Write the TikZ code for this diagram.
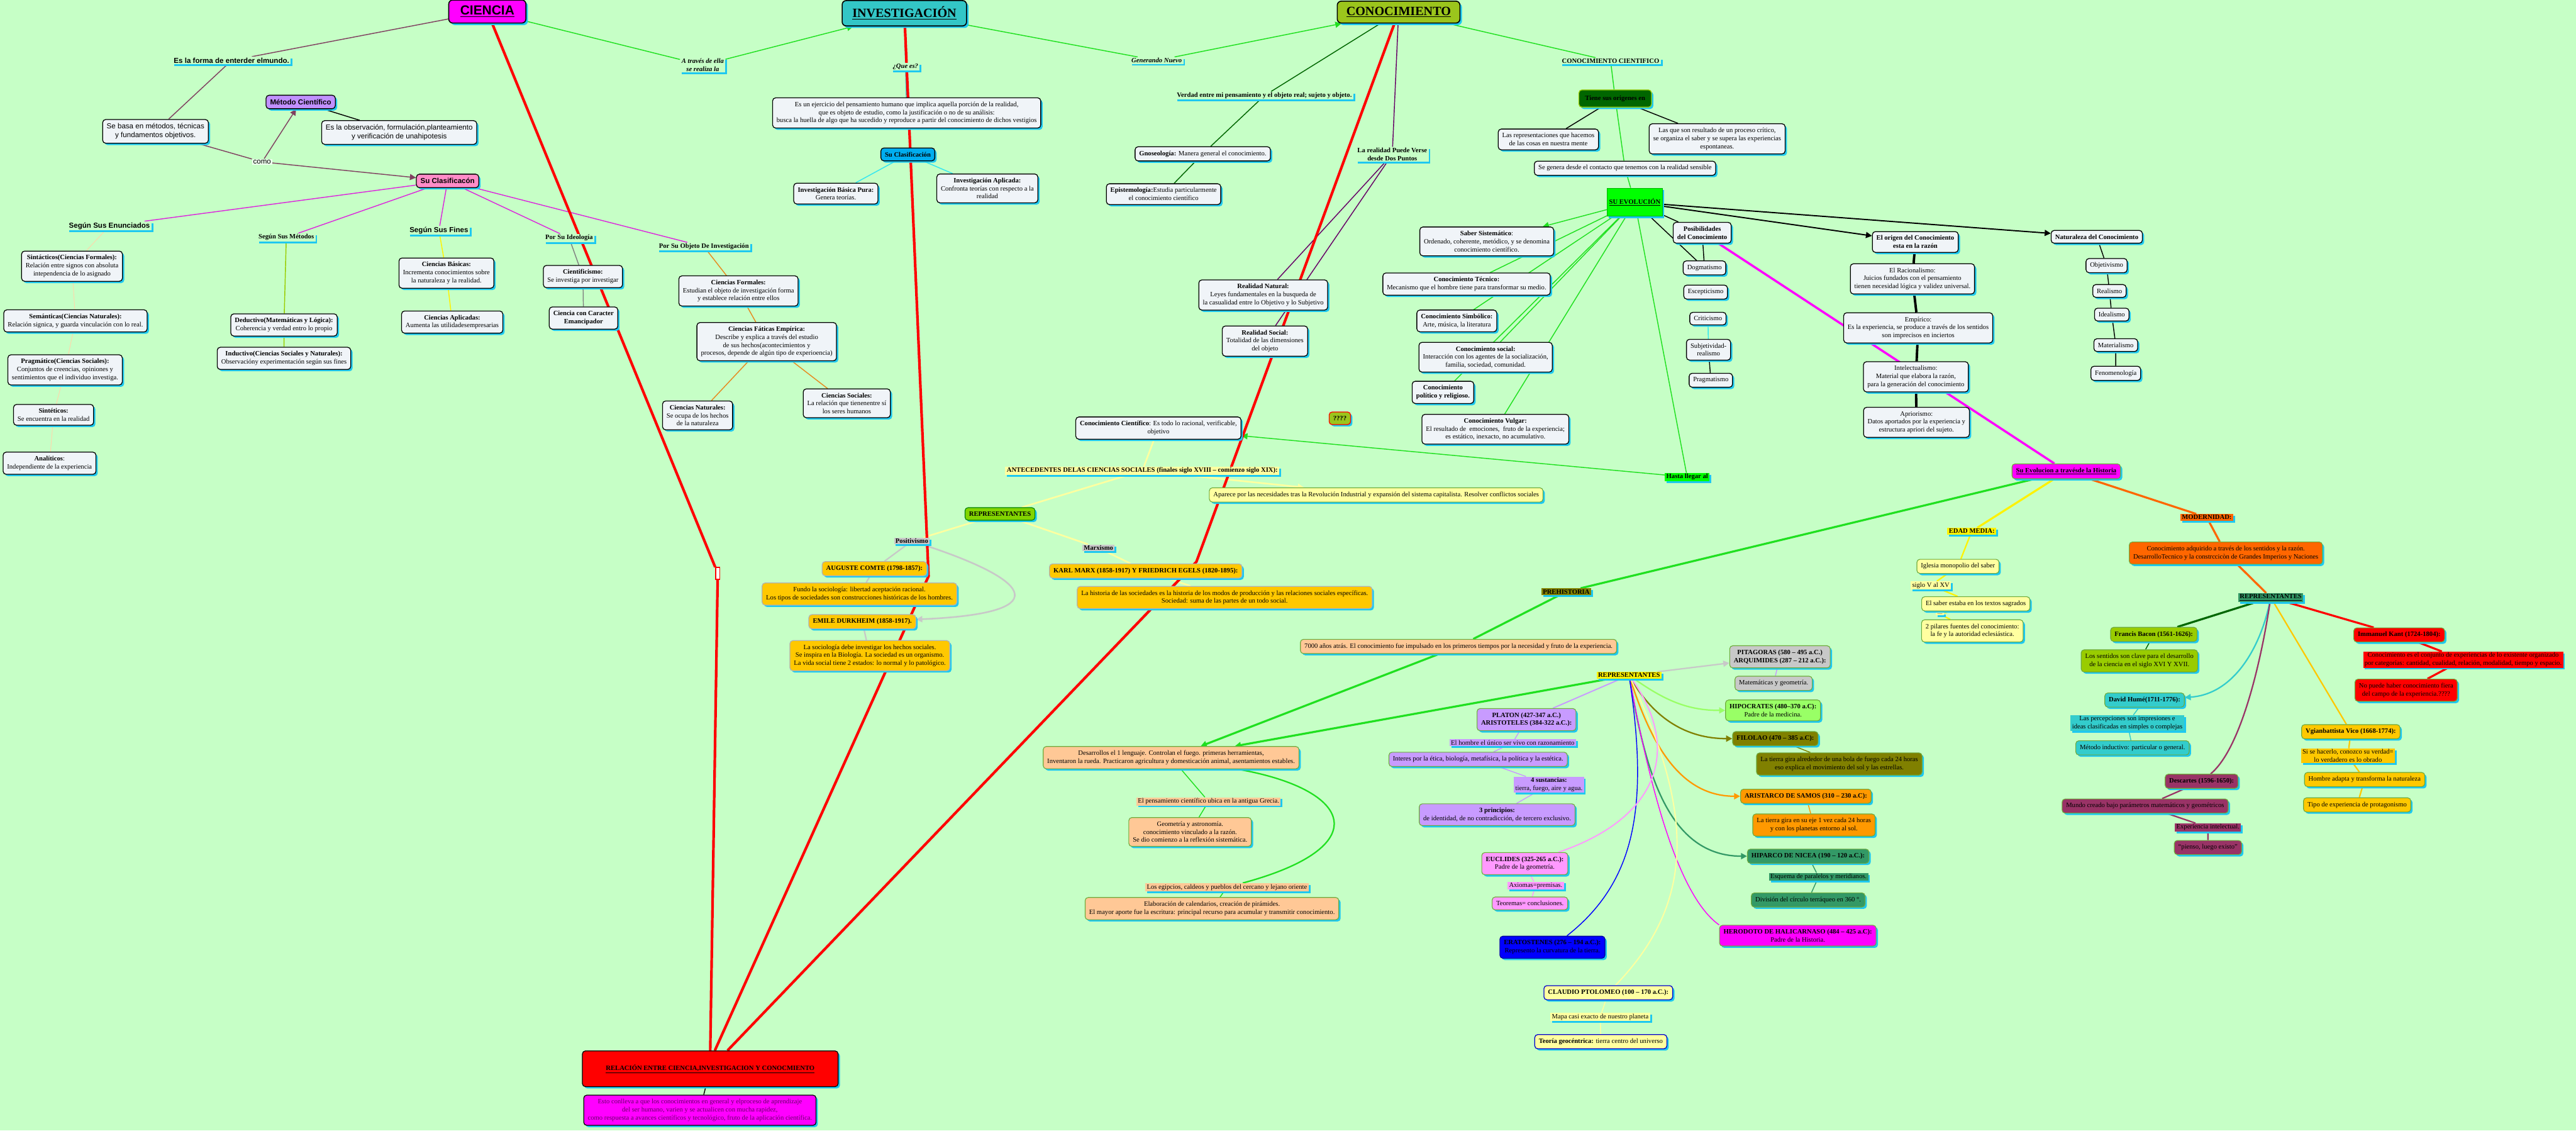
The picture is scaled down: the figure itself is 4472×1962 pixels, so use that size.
\documentclass[tikz,border=0pt]{standalone}
\usepackage{fontspec}
\setmainfont{Liberation Serif}
\setsansfont{Liberation Sans}
\usetikzlibrary{arrows.meta}
\usetikzlibrary{shadows}
\usetikzlibrary{calc}

\definecolor{bg}{RGB}{198,255,198}
\definecolor{boxfill}{RGB}{240,244,248}
\definecolor{shcyan}{RGB}{30,200,240}
\definecolor{maroonln}{RGB}{128,64,96}
\definecolor{clasifmag}{RGB}{220,40,220}
\definecolor{peachln}{RGB}{255,214,170}
\definecolor{ygreen}{RGB}{153,204,0}
\definecolor{oliveln}{RGB}{128,128,0}
\definecolor{brightgreen}{RGB}{32,224,32}
\definecolor{darkgreen}{RGB}{0,102,0}
\definecolor{purpleln}{RGB}{102,0,102}
\definecolor{cienciamag}{RGB}{255,0,255}
\definecolor{metodofill}{RGB}{192,144,255}
\definecolor{pinkfill}{RGB}{255,140,200}
\definecolor{tealfill}{RGB}{51,198,198}
\definecolor{conocfill}{RGB}{155,197,28}
\definecolor{goldfill}{RGB}{255,200,0}
\definecolor{lightyellow}{RGB}{255,255,160}
\definecolor{peachfill}{RGB}{255,200,150}
\definecolor{greylbl}{RGB}{200,200,200}
\definecolor{lavender}{RGB}{200,155,255}
\definecolor{lightgreen}{RGB}{153,255,102}
\definecolor{orangefill}{RGB}{255,153,0}
\definecolor{seagreen}{RGB}{51,153,102}
\definecolor{modorange}{RGB}{255,102,0}
\definecolor{descmaroon}{RGB}{153,51,102}
\definecolor{humeteal}{RGB}{51,204,204}
\definecolor{cyanln}{RGB}{51,230,240}
\definecolor{orangeln}{RGB}{230,138,31}
\definecolor{grnborder}{RGB}{110,170,60}
\definecolor{pinkbox}{RGB}{255,153,255}

\newcommand{\bodyfont}{\fontsize{6.6}{7.9}\selectfont}
\newcommand{\sansfont}{\sffamily\fontsize{7.2}{8.6}\selectfont}

\pgfdeclarelayer{canvas}
\pgfdeclarelayer{links}
\pgfsetlayers{canvas,links,main}

\begin{document}
\begin{tikzpicture}[x=0.02cm,y=-0.02cm,
  box/.style={draw=black,line width=0.8pt,rounded corners=3pt,fill=boxfill,align=center,inner xsep=4pt,inner ysep=4pt,font=\bodyfont,drop shadow={shadow xshift=1.8pt,shadow yshift=-1.8pt,fill=shcyan,opacity=1}},
  sbox/.style={box,font=\sansfont},
  cbox/.style={box,draw=grnborder,line width=0.7pt},
  lbl/.style={fill=bg,inner xsep=1.5pt,inner ysep=1pt,align=center,font=\bfseries\bodyfont,drop shadow={shadow xshift=1.8pt,shadow yshift=-1.8pt,fill=shcyan,opacity=1}},
  plbl/.style={lbl,font=\bodyfont},
  headbox/.style={draw=black,line width=1pt,rounded corners=4pt,align=center,drop shadow={shadow xshift=2pt,shadow yshift=-2pt,fill=shcyan,opacity=1}},
  ln/.style={line width=0.9pt},
  fatln/.style={line width=2pt},
  redln/.style={red,line width=2.6pt},
  arr/.style={-{Triangle[length=6pt,width=6pt]}}
]
\begin{pgfonlayer}{canvas}
\fill[bg] (0,0) rectangle (4472,1962);
\end{pgfonlayer}
\useasboundingbox (0,0) rectangle (4472,1962);

%ciencia
\node[headbox,fill=cienciamag,minimum width=2.68cm,minimum height=0.8cm,font=\sffamily\bfseries\fontsize{13}{15}\selectfont] (ciencia) at (846,20) {\underline{CIENCIA}};
\node[lbl,font=\sffamily\bfseries\fontsize{7.2}{8.6}\selectfont] (formamundo) at (402,105) {Es la forma de enterder elmundo.};
\node[sbox] (sebasa) at (270,228) {Se basa en métodos, técnicas\\y fundamentos objetivos.};
\node[sbox,fill=metodofill,font=\sffamily\bfseries\fontsize{7.2}{8.6}\selectfont] (metodo) at (522,177) {Método Científico};
\node[sbox] (observ) at (693,230) {Es la observación, formulación,planteamiento\\y verificación de unahipotesis};
\node[fill=white!70!bg,inner sep=1pt,font=\sansfont] (como) at (455,281) {como};
\node[sbox,fill=pinkfill,font=\sffamily\bfseries\fontsize{7.2}{8.6}\selectfont] (suclasif) at (777,314) {Su Clasificacón};

%clasificacion labels
\node[lbl,font=\sffamily\bfseries\fontsize{7.2}{8.6}\selectfont] (enunc) at (190,392) {Según Sus Enunciados};
\node[lbl] (metodos) at (497,412) {Según Sus Métodos};
\node[lbl,font=\sffamily\bfseries\fontsize{7.2}{8.6}\selectfont] (fines) at (762,400) {Según Sus Fines};
\node[lbl] (ideol) at (988,413) {Por Su Ideología};
\node[lbl] (objinv) at (1222,428) {Por Su Objeto De Investigación};

\node[box] (sintac) at (125,462) {{\bfseries Sintácticos(Ciencias Formales):}\\Relación entre signos con absoluta\\intependencia de lo asignado};
\node[box] (seman) at (131,557) {{\bfseries Semánticas(Ciencias Naturales):}\\Relación signica, y guarda vinculación con lo real.};
\node[box] (pragm) at (113,642) {{\bfseries Pragmático(Ciencias Sociales):}\\Conjuntos de creencias, opiniones y\\sentimientos que el individuo investiga.};
\node[box] (sintet) at (93,720) {{\bfseries Sintéticos:}\\Se encuentra en la realidad};
\node[box] (analit) at (86,804) {{\bfseries Analíticos}:\\Independiente de la experiencia};
\node[box] (deduc) at (493,564) {{\bfseries Deductivo(Matemáticas y Lógica):}\\Coherencia y verdad entro lo propio};
\node[box] (induc) at (493,622) {{\bfseries Inductivo(Ciencias Sociales y Naturales):}\\Observacióny experimentación según sus fines};
\node[box] (basicas) at (775,474) {{\bfseries Ciencias Básicas:}\\Incrementa conocimientos sobre\\la naturaleza y la realidad.};
\node[box] (aplic) at (785,559) {{\bfseries Ciencias Aplicadas:}\\Aumenta las utilidadesempresarias};
\node[box] (cientif) at (1012,480) {{\bfseries Cientificismo:}\\Se investiga por investigar};
\node[box] (emancip) at (1013,552) {{\bfseries Ciencia con Caracter}\\{\bfseries Emancipador}};
\node[box] (cformal) at (1282,505) {{\bfseries Ciencias Formales:}\\Estudian el objeto de investigación forma\\y establece relación entre ellos};
\node[box] (cfatic) at (1331,593) {{\bfseries Ciencias Fáticas Empírica:}\\Describe y explica a través del estudio\\de sus hechos(acontecimientos y\\procesos, depende de algún tipo de experioencia)};
\node[box] (cnatur) at (1211,721) {{\bfseries Ciencias Naturales:}\\Se ocupa de los hechos\\de la naturaleza};
\node[box] (csocial) at (1470,700) {{\bfseries Ciencias Sociales:}\\La relación que tienenentre sí\\los seres humanos};
\node[draw=red,line width=1pt,fill=white,minimum width=0.14cm,minimum height=0.42cm,inner sep=0pt] (minibox) at (1246,995) {};

%investigacion
\node[headbox,fill=tealfill,minimum width=4.32cm,minimum height=0.88cm,font=\bfseries\fontsize{12.5}{14}\selectfont] (invest) at (1570,23) {\underline{INVESTIGACIÓN}};
\node[lbl,font=\bfseries\itshape\bodyfont] (atraves) at (1220,113) {A través de ella\\se realiza la};
\node[lbl,font=\bfseries\itshape\bodyfont] (quees) at (1572,116) {¿Que es?};
\node[box] (invdesc) at (1574,196) {Es un ejercicio del pensamiento humano que implica aquella porción de la realidad,\\que es objeto de estudio, como la justificación o no de su análisis:\\busca la huella de algo que ha sucedido y reproduce a partir del conocimiento de dichos vestigios};
\node[box,fill=cyan,font=\bfseries\bodyfont] (invclasif) at (1576,268) {Su Clasificación};
\node[box] (invbasica) at (1451,336) {{\bfseries Investigación Básica Pura:}\\Genera teorías.};
\node[box] (invaplic) at (1714,327) {{\bfseries Investigación Aplicada:}\\Confronta teorías con respecto a la\\realidad};
\node[lbl,font=\bfseries\itshape\bodyfont] (generando) at (2008,105) {Generando Nuevo};

%conocimiento
\node[headbox,fill=conocfill,minimum width=4.26cm,minimum height=0.76cm,font=\bfseries\fontsize{12.5}{14}\selectfont] (conoc) at (2428,21) {\underline{CONOCIMIENTO}};
\node[lbl] (verdad) at (2195,166) {Verdad entre mi pensamiento y el objeto real; sujeto y objeto.};
\node[box] (gnoseo) at (2088,267) {{\bfseries Gnoseología:} Manera general el conocimiento.};
\node[box] (episte) at (2020,337) {{\bfseries Epistemología:}Estudia particularmente\\el conocimiento científico};
\node[lbl] (realpuntos) at (2417,268) {La realidad Puede Verse\\desde Dos Puntos};
\node[box] (realnat) at (2193,512) {{\bfseries Realidad Natural:}\\Leyes fundamentales en la busqueda de\\la casualidad entre lo Objetivo y lo Subjetivo};
\node[box] (realsoc) at (2196,592) {{\bfseries Realidad Social:}\\Totalidad de las dimensiones\\del objeto};
\node[lbl] (concient) at (2796,106) {CONOCIMIENTO CIENTIFICO};
\node[box,fill=darkgreen,draw=ygreen,minimum width=2.52cm,minimum height=0.6cm,font=\bfseries\bodyfont] (origenes) at (2804,171) {Tiene sus origenes en};
\node[box] (represent) at (2688,242) {Las representaciones que hacemos\\de las cosas en nuestra mente};
\node[box] (critico) at (2981,241) {Las que son resultado de un proceso crítico,\\se organiza el saber y se supera las experiencias\\espontaneas.};
\node[box] (segenera) at (2821,292) {Se genera desde el contacto que tenemos con la realidad sensible};
\node[draw=green!70!black,line width=0.6pt,fill=green,minimum width=1.92cm,minimum height=0.98cm,inner sep=1pt,font=\bfseries\bodyfont,drop shadow={shadow xshift=1.8pt,shadow yshift=-1.8pt,fill=shcyan,opacity=1}] (suevol) at (2838,351) {\underline{SU EVOLUCIÓN}};

%su evolucion
\node[box] (sabersis) at (2581,419) {{\bfseries Saber Sistemático}:\\Ordenado, coherente, metódico, y se denomina\\conocimiento científico.};
\node[box] (tecnico) at (2546,493) {{\bfseries Conocimiento Técnico:}\\Mecanismo que el hombre tiene para transformar su medio.};
\node[box] (simbol) at (2529,557) {{\bfseries Conocimiento Simbólico:}\\Arte, música, la literatura};
\node[box] (csocialk) at (2579,620) {{\bfseries Conocimiento social:}\\Interacción con los agentes de la socialización,\\familia, sociedad, comunidad.};
\node[box] (polit) at (2505,681) {{\bfseries Conocimiento}\\{\bfseries político y religioso.}};
\node[box] (vulgar) at (2596,745) {{\bfseries Conocimiento Vulgar:}\\El resultado de\ \ emociones,\ \ fruto de la experiencia;\\es estático, inexacto, no acumulativo.};
\node[box,fill=conocfill,draw=red,font=\bfseries\bodyfont] (qmarks) at (2326,726) {????};
\node[lbl,fill=green] (hasta) at (2929,828) {Hasta llegar al};
\node[box] (cc) at (2011,743) {{\bfseries Conocimiento Científico}: Es todo lo racional, verificable,\\objetivo};
\node[box,font=\bfseries\bodyfont] (posib) at (2955,404) {Posibilidades\\del Conocimiento};
\node[box] (dogma) at (2959,465) {Dogmatismo};
\node[box] (escep) at (2961,507) {Escepticismo};
\node[box] (critic) at (2965,553) {Criticismo};
\node[box] (subjet) at (2966,607) {Subjetividad-\\realismo};
\node[box] (pragmat) at (2970,660) {Pragmatismo};
\node[box,font=\bfseries\bodyfont] (origen) at (3325,420) {El origen del Conocimiento\\esta en la razón};
\node[box] (racional) at (3320,484) {El Racionalismo:\\Juicios fundados con el pensamiento\\tienen necesidad lógica y validez universal.};
\node[box] (empir) at (3330,569) {Empírico:\\Es la experiencia, se produce a través de los sentidos\\son imprecisos en inciertos};
\node[box] (intelec) at (3326,654) {Intelectualismo:\\Material que elabora la razón,\\para la generación del conocimiento};
\node[box] (aprior) at (3327,733) {Apriorismo:\\Datos aportados por la experiencia y\\estructura apriori del sujeto.};
\node[box,font=\bfseries\bodyfont] (natur) at (3640,411) {Naturaleza del Conocimiento};
\node[box] (objetiv) at (3657,461) {Objetivismo};
\node[box] (realis) at (3662,505) {Realismo};
\node[box] (ideal) at (3666,546) {Idealismo};
\node[box] (materi) at (3673,599) {Materialismo};
\node[box] (fenom) at (3673,648) {Fenomenología};

%ciencias sociales
\node[lbl,fill=lightyellow] (antec) at (1983,817) {ANTECEDENTES DELAS CIENCIAS SOCIALES (finales siglo XVIII -- comienzo siglo XIX):};
\node[cbox,fill=lightyellow] (aparece) at (2389,859) {Aparece por las necesidades tras la Revolución Industrial y expansión del sistema capitalista. Resolver conflictos sociales};
\node[cbox,fill=ygreen!85!green,draw=green!50!black,font=\bfseries\bodyfont] (repsoc) at (1736,892) {REPRESENTANTES};
\node[lbl,fill=greylbl] (positiv) at (1583,939) {Positivismo};
\node[lbl,fill=greylbl] (marxis) at (1907,951) {Marxismo};
\node[box,fill=goldfill,draw=gray!60,font=\bfseries\bodyfont] (comte) at (1518,987) {AUGUSTE COMTE (1798-1857):};
\node[box,fill=goldfill,draw=gray!60] (comtetxt) at (1492,1031) {Fundo la sociología: libertad aceptación racional.\\Los tipos de sociedades son construcciones históricas de los hombres.};
\node[box,fill=goldfill,draw=gray!60,font=\bfseries\bodyfont] (durk) at (1497,1079) {EMILE DURKHEIM (1858-1917).};
\node[box,fill=goldfill,draw=gray!60] (durktxt) at (1510,1138) {La sociología debe investigar los hechos sociales.\\Se inspira en la Biología. La sociedad es un organismo.\\La vida social tiene 2 estados: lo normal y lo patológico.};
\node[box,fill=goldfill,draw=gray!60,font=\bfseries\bodyfont] (marx) at (1989,991) {KARL MARX (1858-1917) Y FRIEDRICH EGELS (1820-1895):};
\node[box,fill=goldfill,draw=gray!60] (marxtxt) at (2126,1037) {La historia de las sociedades es la historia de los modos de producción y las relaciones sociales específicas.\\Sociedad: suma de las partes de un todo social.};

%historia
\node[cbox,fill=cienciamag,font=\bfseries\bodyfont] (suevohist) at (3587,818) {\underline{Su Evolucion a travésde la Historia}};
\node[lbl,fill=oliveln] (prehist) at (2719,1027) {PREHISTORIA};
\node[lbl,fill=yellow] (edadmedia) at (3423,922) {EDAD MEDIA:};
\node[lbl,fill=modorange] (modern) at (3831,898) {MODERNIDAD:};
\node[cbox,fill=peachfill] (anios) at (2532,1122) {7000 años atrás. El conocimiento fue impulsado en los primeros tiempos por la necesidad y fruto de la experiencia.};
\node[cbox,fill=peachfill] (desarr) at (2033,1315) {Desarrollos el 1 lenguaje. Controlan el fuego. primeras herramientas,\\Inventaron la rueda. Practicaron agricultura y domesticación animal, asentamientos estables.};
\node[plbl,fill=peachfill] (grecia) at (2098,1391) {El pensamiento científico ubica en la antigua Grecia.};
\node[cbox,fill=peachfill] (geomet) at (2066,1444) {Geometría y astronomía.\\conocimiento vinculado a la razón.\\Se dio comienzo a la reflexión sistemática.};
\node[plbl,fill=peachfill] (egipc) at (2130,1540) {Los egipcios, caldeos y pueblos del cercano y lejano oriente};
\node[cbox,fill=peachfill] (calend) at (2104,1577) {Elaboración de calendarios, creación de pirámides.\\El mayor aporte fue la escritura: principal recurso para acumular y transmitir conocimiento.};

%representantes antiguos
\node[lbl,fill=yellow] (repant) at (2828,1172) {REPRESENTANTES};
\node[cbox,fill=greylbl,font=\bfseries\bodyfont] (pitag) at (3090,1140) {PITAGORAS (580 -- 495 a.C.)\\ARQUIMIDES (287 -- 212 a.C.):};
\node[cbox,fill=greylbl] (matgeo) at (3079,1186) {Matemáticas y geometría.};
\node[cbox,fill=lightgreen] (hipoc) at (3078,1233) {{\bfseries HIPOCRATES (480--370 a.C):}\\Padre de la medicina.};
\node[cbox,fill=oliveln,font=\bfseries\bodyfont] (filol) at (3082,1282) {FILOLAO (470 -- 385 a.C):};
\node[cbox,fill=oliveln] (filoltxt) at (3193,1326) {La tierra gira alrededor de una bola de fuego cada 24 horas\\eso explica el movimiento del sol y las estrellas.};
\node[cbox,fill=orangefill,font=\bfseries\bodyfont] (arist) at (3135,1382) {ARISTARCO DE SAMOS (310 -- 230 a.C):};
\node[cbox,fill=orangefill] (aristtxt) at (3149,1432) {La tierra gira en su eje 1 vez cada 24 horas\\y con los planetas entorno al sol.};
\node[cbox,fill=seagreen,font=\bfseries\bodyfont] (hiparc) at (3139,1486) {HIPARCO DE NICEA (190 -- 120 a.C.):};
\node[plbl,fill=seagreen] (esquema) at (3157,1522) {Esquema de paralelos y meridianos.};
\node[cbox,fill=seagreen] (divis) at (3139,1562) {División del círculo terráqueo en 360 °.};
\node[cbox,fill=cienciamag] (herod) at (3121,1624) {{\bfseries HERODOTO DE HALICARNASO (484 -- 425 a.C):}\\Padre de la Historia.};
\node[cbox,fill=blue,draw=blue!60!black] (erat) at (2695,1644) {{\bfseries ERATOSTENES (276 -- 194 a.C.):}\\Represento la curvatura de la tierra.};
\node[box,fill=lightyellow,draw=blue!80!black,font=\bfseries\bodyfont] (ptol) at (2792,1723) {CLAUDIO PTOLOMEO (100 -- 170 a.C.):};
\node[plbl,fill=lightyellow] (mapa) at (2778,1765) {Mapa casi exacto de nuestro planeta};
\node[box,fill=lightyellow,draw=blue!80!black] (geoc) at (2779,1808) {{\bfseries Teoría geocéntrica:} tierra centro del universo};
\node[cbox,fill=pinkbox] (eucl) at (2647,1499) {{\bfseries EUCLIDES (325-265 a.C.):}\\Padre de la geometría.};
\node[plbl,fill=pinkbox] (axiom) at (2666,1537) {Axiomas=premisas.};
\node[cbox,fill=pinkbox] (teorem) at (2656,1568) {Teoremas= conclusiones.};
\node[cbox,fill=lavender,font=\bfseries\bodyfont] (platon) at (2650,1249) {PLATON (427-347 a.C.)\\ARISTOTELES (384-322 a.C.):};
\node[plbl,fill=lavender] (hombre) at (2626,1289) {El hombre el único ser vivo con razonamiento};
\node[cbox,fill=lavender] (interes) at (2566,1318) {Interes por la ética, biología, metafísica, la política y la estética.};
\node[plbl,fill=lavender] (sustanc) at (2689,1362) {{\bfseries 4 sustancias:}\\tierra, fuego, aire y agua.};
\node[cbox,fill=lavender] (princip) at (2599,1414) {{\bfseries 3 principios:}\\de identidad, de no contradicción, de tercero exclusivo.};

%edad media
\node[cbox,fill=lightyellow] (iglesia) at (3399,983) {Iglesia monopolio del saber};
\node[plbl,fill=lightyellow] (siglo) at (3352,1016) {siglo V al XV};
\node[cbox,fill=lightyellow] (saber) at (3430,1048) {El saber estaba en los textos sagrados};
\node[plbl,fill=lightyellow,font=\fontsize{5}{6}\selectfont] (puntos) at (3368,1066) {....};
\node[cbox,fill=lightyellow] (pilares) at (3424,1095) {2 pilares fuentes del conocimiento:\\la fe y la autoridad eclesiástica.};

%modernidad
\node[cbox,fill=modorange] (modtxt) at (3864,960) {Conocimiento adquirido a través de los sentidos y la razón.\\DesarrolloTecnico y la constrccicòn de Grandes Imperios y Naciones};
\node[lbl,fill=seagreen] (repmod) at (3942,1037) {\underline{REPRESENTANTES}};
\node[cbox,fill=ygreen,font=\bfseries\bodyfont] (bacon) at (3739,1101) {Francis Bacon (1561-1626):};
\node[cbox,fill=ygreen] (bacontxt) at (3714,1147) {Los sentidos son clave para el desarrollo\\de la ciencia en el siglo XVI Y XVII.};
\node[cbox,fill=red,font=\bfseries\bodyfont] (kant) at (4165,1102) {Immanuel Kant (1724-1804):};
\node[plbl,fill=red] (kanttxt) at (4276,1145) {Conocimiento es el conjunto de experiencias de lo existente organizado\\por categorías: cantidad, cualidad, relación, modalidad, tiempo y espacio.};
\node[cbox,fill=red] (kantno) at (4177,1198) {No puede haber conocimiento fiera\\del campo de la experiencia.????};
\node[cbox,fill=humeteal,font=\bfseries\bodyfont] (hume) at (3723,1215) {David Humé(1711-1776):};
\node[plbl,fill=humeteal] (humetxt) at (3693,1255) {Las percepciones son impresiones e\\ideas clasificadas en simples o complejas};
\node[cbox,fill=humeteal] (humemet) at (3702,1298) {Método inductivo: particular o general.};
\node[cbox,fill=goldfill,font=\bfseries\bodyfont] (vico) at (4081,1270) {Vgianbattista Vico (1668-1774):};
\node[plbl,fill=goldfill] (vicotxt) at (4076,1312) {Si se hacerlo, conozco su verdad=\\lo verdadero es lo obrado};
\node[cbox,fill=goldfill] (hombreadapta) at (4105,1353) {Hombre adapta y transforma la naturaleza};
\node[cbox,fill=goldfill] (tipoexp) at (4092,1397) {Tipo de experiencia de protagonismo};
\node[cbox,fill=descmaroon,font=\bfseries\bodyfont] (desc) at (3822,1356) {Descartes (1596-1650):};
\node[cbox,fill=descmaroon] (desctxt) at (3724,1399) {Mundo creado bajo parámetros matemáticos y geométricos};
\node[plbl,fill=descmaroon] (expint) at (3833,1436) {Experiencia intelectual.};
\node[cbox,fill=descmaroon] (pienso) at (3833,1471) {“pienso, luego existo”};

%relacion
\node[box,fill=red,minimum width=8.88cm,minimum height=1.24cm,font=\bfseries\bodyfont] (relacion) at (1233,1855) {\underline{RELACIÓN ENTRE CIENCIA,INVESTIGACION Y CONOCMIENTO}};
\node[box,fill=cienciamag,text=purpleln] (conlleva) at (1215,1927) {Esto conlleva a que los conocimientos en general y elproceso de aprendizaje\\del ser humano, varien y se actualicen con mucha rapidez,\\como respuesta a avances científicos y tecnológico, fruto de la aplicación científica.};

\coordinate (invbend) at (1612,1000);
\coordinate (conbend) at (2077,975);

\begin{pgfonlayer}{links}
%ciencia branch
\draw[maroonln,ln] (ciencia) -- (formamundo);
\draw[maroonln,ln] (formamundo) -- (sebasa);
\draw[maroonln,ln] (sebasa) -- (como);
\draw[maroonln,ln,arr] (como) -- (metodo);
\draw[maroonln,ln,arr] (como) -- (suclasif);
\draw[black,ln] (metodo) -- (observ);
\draw[clasifmag,ln] (suclasif) -- (enunc);
\draw[clasifmag,ln] (suclasif) -- (metodos);
\draw[clasifmag,ln] (suclasif) -- (fines);
\draw[clasifmag,ln] (suclasif) -- (ideol);
\draw[clasifmag,ln] (suclasif) -- (objinv);
\draw[peachln,line width=0.6pt] (enunc) -- (sintac) -- (seman) -- (pragm) -- (sintet) -- (analit);
\draw[ygreen,ln] (metodos) -- (deduc) -- (induc);
\draw[yellow,ln] (fines) -- (basicas) -- (aplic);
\draw[gray,ln] (ideol) -- (cientif) -- (emancip);
\draw[orangeln,ln] (objinv) -- (cformal) -- (cfatic);
\draw[orangeln,ln] (cfatic) -- (cnatur);
\draw[orangeln,ln] (cfatic) -- (csocial);

%investigacion branch
\draw[brightgreen,ln] (ciencia) -- (atraves);
\draw[brightgreen,ln,arr] (atraves) -- (invest);
\draw[brightgreen,ln] (invest) -- (generando);
\draw[brightgreen,ln,arr] (generando) -- (conoc);
\draw[tealfill,ln] (invest) -- (quees) -- (invdesc);
\draw[cyanln,ln] (invclasif) -- (invbasica);
\draw[cyanln,ln] (invclasif) -- (invaplic);

%conocimiento branch
\draw[darkgreen,ln] (conoc) -- (verdad) -- (gnoseo) -- (episte);
\draw[purpleln,ln] (conoc) -- (realpuntos);
\draw[purpleln,ln] (realpuntos) -- (realnat);
\draw[purpleln,ln] (realpuntos) -- (realsoc);
\draw[brightgreen,ln] (conoc) -- (concient) -- (origenes) -- (segenera) -- (suevol);
\draw[black,ln] (origenes) -- (represent);
\draw[black,ln] (origenes) -- (critico);
\draw[brightgreen,ln,arr] (suevol) -- (sabersis);
\draw[brightgreen,ln] (suevol) -- (tecnico);
\draw[brightgreen,ln] (suevol) -- (simbol);
\draw[brightgreen,ln] (suevol) -- (csocialk);
\draw[brightgreen,ln] (suevol) -- (polit);
\draw[brightgreen,ln] (suevol) -- (vulgar);
\draw[brightgreen,ln] (suevol) -- (hasta);
\draw[brightgreen,ln,arr] (hasta) -- (cc);
\draw[black,ln] (suevol) -- (posib);
\draw[black,ln] (suevol) -- (dogma);
\draw[black,ln] (posib) -- (dogma);
\draw[cyanln,ln] (critic) -- (subjet);
\draw[black,ln] (subjet) -- (pragmat);
\draw[black,line width=1.2pt,arr] (suevol) -- (origen);
\draw[black,line width=1.2pt,arr] (suevol) -- (natur);
\draw[black,line width=2.4pt] (origen) -- (racional) -- (empir) -- (intelec) -- (aprior);
\draw[black,ln] (natur) -- (objetiv) -- (realis) -- (ideal) -- (materi) -- (fenom);
\draw[cienciamag,line width=2.2pt] (posib) -- (suevohist);

%ciencias sociales
\draw[lightyellow,line width=1.6pt] (cc) -- (antec);
\draw[lightyellow,line width=1.6pt,arr] (antec) -- (aparece);
\draw[lightyellow,line width=1.6pt] (antec) -- (repsoc);
\draw[lightyellow,line width=1.6pt] (repsoc) -- (positiv);
\draw[lightyellow,line width=1.6pt] (repsoc) -- (marxis) -- (marx);
\draw[lightyellow,line width=1.6pt] (marx) -- (marxtxt);
\draw[greylbl,line width=1.4pt] (positiv) -- (comte) -- (comtetxt);
\draw[greylbl,line width=1.6pt,arr] (positiv) .. controls (1800,1010) and (1830,1065) .. (durk);
\draw[greylbl,line width=1.4pt] (durk) -- (durktxt);

%relacion
\draw[redln] (ciencia) -- (minibox) -- (relacion.north);
\draw[redln] (invest) -- (invbend) -- ($(relacion.north)+(8,0)$);
\draw[redln] (conoc) -- (conbend) -- ($(relacion.north)+(30,0)$);
\draw[black,ln] (relacion) -- (conlleva);

%historia
\draw[brightgreen,fatln] (suevohist) -- (prehist);
\draw[yellow,fatln] (suevohist) -- (edadmedia);
\draw[modorange,fatln] (suevohist) -- (modern);
\draw[brightgreen,fatln] (prehist) -- (anios);
\draw[brightgreen,fatln,arr] (anios) -- (desarr);
\draw[brightgreen,fatln,arr] (repant) -- (desarr);
\draw[brightgreen,ln] (desarr) -- (grecia) -- (geomet);
\draw[brightgreen,line width=1.4pt] (desarr) .. controls (2350,1370) and (2390,1470) .. (egipc);
\draw[brightgreen,ln] (egipc) -- (calend);
\draw[greylbl,line width=1.4pt,arr] (repant) -- (pitag);
\draw[lavender,ln] (pitag) -- (matgeo);
\draw[lightgreen,line width=1.4pt,arr] (repant) to[out=-35,in=180] (hipoc);
\draw[oliveln,line width=1.4pt,arr] (repant) to[out=-60,in=180] (filol);
\draw[oliveln,ln] (filol) -- (filoltxt);
\draw[orangefill,line width=1.4pt,arr] (repant) to[out=-72,in=180] (arist);
\draw[orangefill,ln] (arist) -- (aristtxt);
\draw[seagreen,line width=1.4pt,arr] (repant) to[out=-80,in=180] (hiparc);
\draw[seagreen,ln] (hiparc) -- (esquema) -- (divis);
\draw[cienciamag,ln] (repant) .. controls (2870,1400) and (2920,1560) .. (herod.north west);
\draw[blue,ln] (repant) .. controls (2862,1400) and (2840,1530) .. (erat);
\draw[lightyellow,line width=1.2pt] (repant) .. controls (2935,1400) and (2950,1560) .. (ptol);
\draw[lightyellow,ln] (ptol) -- (mapa) -- (geoc);
\draw[pinkbox,line width=1.2pt] (repant) .. controls (2920,1300) and (2880,1420) .. (eucl);
\draw[pinkbox,ln] (eucl) -- (axiom) -- (teorem);
\draw[lavender,line width=1.2pt] (repant) -- (platon);
\draw[lavender,ln] (platon) -- (hombre) -- (interes) -- (sustanc) -- (princip);

%edad media
\draw[yellow,line width=1.4pt] (edadmedia) -- (iglesia) -- (siglo) -- (saber) -- (puntos) -- (pilares);

%modernidad
\draw[modorange,fatln] (modern) -- (modtxt) -- (repmod);
\draw[darkgreen,fatln] (repmod) -- (bacon);
\draw[darkgreen,ln] (bacon) -- (bacontxt);
\draw[red,fatln] (repmod) -- (kant);
\draw[red,fatln] (kant) -- (kanttxt) -- (kantno);
\draw[humeteal,line width=1.4pt,arr] (repmod) .. controls (3925,1120) and (3880,1205) .. (hume);
\draw[humeteal,ln] (hume) -- (humetxt) -- (humemet);
\draw[goldfill,line width=1.4pt] (repmod) -- (vico);
\draw[goldfill,line width=1.4pt] (vico) -- (vicotxt) -- (hombreadapta) -- (tipoexp);
\draw[descmaroon,line width=1.4pt] (repmod) .. controls (3925,1150) and (3890,1300) .. (desc);
\draw[descmaroon,line width=1.4pt] (desc) -- (desctxt) -- (expint) -- (pienso);
\end{pgfonlayer}

\end{tikzpicture}
\end{document}
